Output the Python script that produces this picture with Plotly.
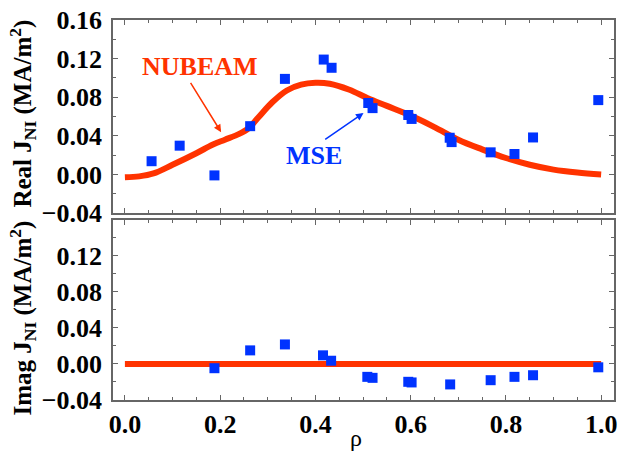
import plotly.graph_objects as go
from plotly.subplots import make_subplots

# NUBEAM (model) curve, real part
nb_rho = [0.0, 0.03, 0.06, 0.10, 0.15, 0.185, 0.21, 0.24, 0.26, 0.28, 0.31, 0.34, 0.37,
          0.40, 0.43, 0.47, 0.51, 0.55, 0.60, 0.65, 0.70, 0.75, 0.80, 0.85, 0.90, 0.95, 1.0]
nb_real = [-0.003, -0.002, 0.001, 0.010, 0.022, 0.031, 0.036, 0.042, 0.048, 0.059, 0.075, 0.087, 0.093,
           0.095, 0.094, 0.088, 0.079, 0.071, 0.061, 0.049, 0.036, 0.026, 0.017, 0.010, 0.005, 0.002, 0.000]
nb_imag_rho = [0.0, 1.0]
nb_imag = [0.0, 0.0]

# MSE measurements, real part
mse_rho_re = [0.056, 0.115, 0.188, 0.263, 0.336, 0.4175, 0.434, 0.511, 0.520, 0.595, 0.602,
              0.682, 0.686, 0.768, 0.818, 0.857, 0.994]
mse_real = [0.0137, 0.0298, -0.001, 0.050, 0.099, 0.119, 0.1105, 0.074, 0.0687, 0.0616, 0.0575,
            0.038, 0.0335, 0.0229, 0.0212, 0.0383, 0.077]

# MSE measurements, imaginary part
mse_rho_im = [0.188, 0.263, 0.336, 0.416, 0.433, 0.509, 0.520, 0.595, 0.602, 0.683, 0.768,
              0.818, 0.857, 0.994]
mse_imag = [-0.0047, 0.0151, 0.0217, 0.0096, 0.0036, -0.0143, -0.0154, -0.0198, -0.0205,
            -0.0227, -0.018, -0.0143, -0.0125, -0.0037]

x_ticks = [0.0, 0.2, 0.4, 0.6, 0.8, 1.0]
y_ticks_top = [-0.04, 0.00, 0.04, 0.08, 0.12, 0.16]
y_ticks_bot = [-0.04, 0.00, 0.04, 0.08, 0.12]

RED = "#ff3300"
BLUE = "#0033ff"
AX = "#666666"
FONT = "Liberation Serif"

fig = make_subplots(rows=2, cols=1, shared_xaxes=False, vertical_spacing=0.02)

fig.add_trace(go.Scatter(x=nb_rho, y=nb_real, mode="lines", line=dict(color=RED, width=6, shape="spline"),
                         showlegend=False), row=1, col=1)
fig.add_trace(go.Scatter(x=mse_rho_re, y=mse_real, mode="markers",
                         marker=dict(symbol="square", size=10, color=BLUE), showlegend=False), row=1, col=1)
fig.add_trace(go.Scatter(x=nb_imag_rho, y=nb_imag, mode="lines", line=dict(color=RED, width=6),
                         showlegend=False), row=2, col=1)
fig.add_trace(go.Scatter(x=mse_rho_im, y=mse_imag, mode="markers",
                         marker=dict(symbol="square", size=10, color=BLUE), showlegend=False), row=2, col=1)

TICKFONT = dict(family=FONT, size=26, color="black", weight="bold")

common_x = dict(range=[-0.025, 1.027], tickvals=x_ticks, ticks="inside", ticklen=5, tickwidth=1.2,
                tickcolor=AX, showline=True, linecolor=AX, linewidth=1.5, mirror="allticks",
                showgrid=False, zeroline=False,
                minor=dict(dtick=0.05, ticks="inside", ticklen=3, tickcolor=AX, tickwidth=1, showgrid=False))
fig.update_xaxes(**common_x, showticklabels=False, row=1, col=1)
fig.update_xaxes(**common_x, showticklabels=True, tickformat=".1f", tickfont=TICKFONT, row=2, col=1)

common_y = dict(range=[-0.04, 0.16], ticks="inside", ticklen=5, tickwidth=1.2, tickcolor=AX,
                showline=True, linecolor=AX, linewidth=1.5, mirror="allticks", showgrid=False,
                zeroline=False, tickformat=".2f", ticklabelstandoff=4, tickfont=TICKFONT,
                minor=dict(dtick=0.02, ticks="inside", ticklen=3, tickcolor=AX, tickwidth=1, showgrid=False))
fig.update_yaxes(**common_y, tickvals=y_ticks_top, row=1, col=1)
fig.update_yaxes(**common_y, tickvals=y_ticks_bot, row=2, col=1)

fig.update_layout(
    width=623, height=455,
    margin=dict(l=113, r=6, t=20, b=55),
    paper_bgcolor="white", plot_bgcolor="white",
    font=dict(family=FONT, color="black"),
)
fig.layout.yaxis.domain = [0.492, 1.0]
fig.layout.yaxis2.domain = [0.0, 0.474]

ann = [
    dict(text="<b>NUBEAM</b>", x=0.157, y=0.112, xref="x", yref="y", showarrow=False,
         font=dict(family=FONT, size=26, color=RED)),
    dict(text="", x=0.202, y=0.0438, ax=0.136, ay=0.0965, xref="x", yref="y", axref="x", ayref="y",
         showarrow=True, arrowhead=2, arrowsize=1, arrowwidth=1.5, arrowcolor=RED),
    dict(text="<b>MSE</b>", x=0.397, y=0.020, xref="x", yref="y", showarrow=False,
         font=dict(family=FONT, size=26, color=BLUE)),
    dict(text="", x=0.501, y=0.0636, ax=0.4175, ay=0.0352, xref="x", yref="y", axref="x", ayref="y",
         showarrow=True, arrowhead=2, arrowsize=1, arrowwidth=1.5, arrowcolor=BLUE),
    dict(text="<b>Real J<sub>NI</sub> (MA/m<sup>2</sup>)</b>", x=22, y=114, xref="paper", yref="paper",
         showarrow=False, textangle=-90, font=dict(family=FONT, size=25, color="black")),
    dict(text="<b>Imag J<sub>NI</sub> (MA/m<sup>2</sup>)</b>", x=22, y=318, xref="paper", yref="paper",
         showarrow=False, textangle=-90, font=dict(family=FONT, size=25, color="black")),
    dict(text="ρ", x=357, y=438, xref="paper", yref="paper", showarrow=False,
         font=dict(family=FONT, size=24, color="black")),
]
# convert pixel-based title positions to paper coordinates
pw, ph = 623 - 113 - 6, 455 - 20 - 55
for a in ann:
    if a["xref"] == "paper":
        a["x"] = (a["x"] - 113) / pw
        a["y"] = (455 - 55 - a["y"]) / ph
        a["xanchor"] = "center"
        a["yanchor"] = "middle"
fig.update_layout(annotations=ann)

fig.write_html("out.html")
